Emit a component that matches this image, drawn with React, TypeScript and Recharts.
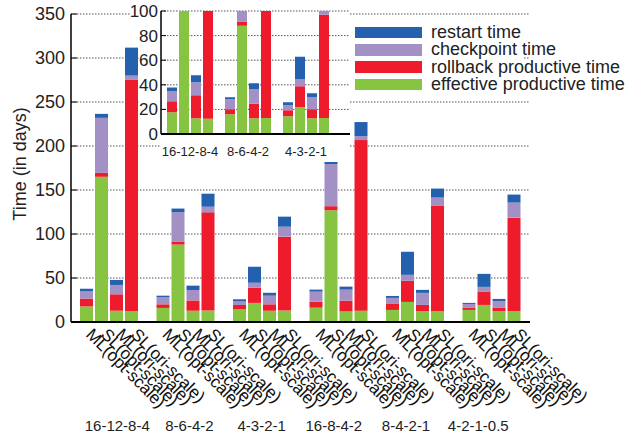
import React from 'react'
import { BarChart, Bar, XAxis, YAxis, CartesianGrid, LabelList } from 'recharts'

const FONT = '"Liberation Sans", Arial, Helvetica, sans-serif'

const groups = ['16-12-8-4', '8-6-4-2', '4-3-2-1', '16-8-4-2', '8-4-2-1', '4-2-1-0.5']
const variants = ['ML(opt-scale)', 'SL(opt-scale)', 'ML(ori-scale)', 'SL(ori-scale)']

// one row per variant, one value per group
const effective = [
  [17.7, 16, 14.4, 16.3, 13.7, 13.7],
  [165, 88, 21.7, 127, 22.8, 19.4],
  [12.8, 12.8, 12.8, 12, 12.5, 12.5],
  [12.5, 13, 13, 12.9, 12.5, 12.5],
]
const rollback = [
  [8.9, 4.1, 4.9, 6.8, 6.8, 2.3],
  [4.5, 3.5, 17.2, 4.6, 24, 14.8],
  [18.7, 11.7, 7.3, 12.3, 6.9, 3.5],
  [263, 111.6, 84, 193.8, 119.8, 106.1],
]
const checkpoint = [
  [8.2, 8.2, 4.1, 11.4, 6.9, 4.5],
  [62.5, 33.2, 5.7, 47.9, 6.8, 5.7],
  [10.6, 11.9, 9.8, 12.5, 13.7, 7.9],
  [4.5, 6.4, 11.3, 4.6, 9.1, 17.1],
]
const restart = [
  [3.0, 1.6, 2.4, 2.3, 2.2, 1.2],
  [4.5, 4.2, 18.2, 4.5, 26.2, 14.8],
  [5.7, 4.9, 3.3, 3.4, 3.4, 2.3],
  [31.8, 14.8, 11.4, 15.9, 10.2, 9.1],
]

const yTicks = [0, 50, 100, 150, 200, 250, 300, 350]
const insetTicks = [0, 20, 40, 60, 80, 100]
const insetCount = 3

const segments = [
  { key: 'eff', name: 'effective productive time', color: '#86c441', values: effective },
  { key: 'rb', name: 'rollback productive time', color: '#ee1b2d', values: rollback },
  { key: 'ck', name: 'checkpoint time', color: '#a391c6', values: checkpoint },
  { key: 'rs', name: 'restart time', color: '#2360ae', values: restart },
]

const rows = groups.map((g, i) => {
  const r: any = { group: g }
  segments.forEach(s => variants.forEach((_, v) => { r[`${s.key}${v}`] = s.values[v][i] }))
  return r
})
const insetRows = rows.slice(0, insetCount)

const GRID = { stroke: '#555', strokeDasharray: '1.5 1.5' }

function GroupTick({ x, y, payload, dy, size, drift }: any) {
  const shift = drift ? 8 - 4.3 * (payload.index ?? 0) : 0
  return (
    <text x={x + shift} y={y + dy} textAnchor="middle" fontSize={size} fill="#222" fontFamily={FONT}>{payload.value}</text>
  )
}

const variantLabel = (name: string) => (p: any) => {
  const lx = Number(p.x) + Number(p.width) / 2 - 1.5
  const ly = Number(p.y) + Number(p.height) + 13.6
  return (
    <text x={lx} y={ly} transform={`rotate(45 ${lx} ${ly})`} fontSize={17} fill="#111" fontFamily={FONT}>{name}</text>
  )
}

function AxisTitle() {
  return (
    <text x={20} y={164} transform="rotate(-90 20 164)" textAnchor="middle" dominantBaseline="central"
      fontSize={18} fill="#222" fontFamily={FONT}>Time (in days)</text>
  )
}

function bars(withLabels: boolean) {
  const out: React.ReactNode[] = []
  variants.forEach((vn, v) => {
    segments.forEach(s => {
      out.push(
        <Bar key={`${s.key}${v}`} dataKey={`${s.key}${v}`} stackId={`s${v}`} fill={s.color} isAnimationActive={false}>
          {withLabels && s.key === 'eff' ? <LabelList dataKey={`${s.key}${v}`} content={variantLabel(vn)} /> : null}
        </Bar>
      )
    })
  })
  return out
}

const white: React.CSSProperties = { position: 'absolute', background: '#fff' }

export default function App() {
  return (
    <div style={{ position: 'absolute', left: 0, top: 0, width: 631, height: 442, background: '#fff', fontFamily: FONT }}>
      <BarChart width={631} height={442} data={rows} margin={{ top: 14, right: 100, bottom: 0, left: 21 }}
        barSize={13} barGap={2}>
        <CartesianGrid vertical={false} {...GRID} />
        <XAxis dataKey="group" height={120} interval={0} tickLine={false} tickSize={0} tickMargin={0}
          axisLine={{ stroke: '#000', strokeWidth: 2 }} tick={<GroupTick dy={109} size={15} drift />} />
        <YAxis domain={[0, 350]} ticks={yTicks} interval={0} width={50} tickSize={-6} tickMargin={12}
          axisLine={{ stroke: '#000', strokeWidth: 1.5 }} tickLine={{ stroke: '#000' }}
          tick={{ fontSize: 18, fill: '#222', fontFamily: FONT }} label={<AxisTitle />} />
        <YAxis yAxisId="r" orientation="right" domain={[0, 350]} ticks={yTicks} interval={0} width={1} tickSize={-6}
          axisLine={false} tickLine={{ stroke: '#000' }} tick={false} />
        {bars(true)}
      </BarChart>

      <div style={{ ...white, left: 131, top: 0, width: 30, height: 42 }} />
      <div style={{ ...white, left: 140, top: 42, width: 21, height: 92 }} />
      <div style={{ ...white, left: 161, top: 134, width: 189, height: 28 }} />

      <div style={{ position: 'absolute', left: 100, top: 0 }}>
        <BarChart width={250} height={165} data={insetRows} margin={{ top: 11, right: 0, bottom: 0, left: 21 }}
          barSize={10} barGap={2}>
          <CartesianGrid vertical={false} fill="#fff" {...GRID} />
          <XAxis dataKey="group" height={31} interval={0} tickLine={false} tickSize={0} tickMargin={0}
            padding={{ left: 0, right: 15 }}
            axisLine={{ stroke: '#000', strokeWidth: 2 }} tick={<GroupTick dy={22} size={13} />} />
          <YAxis domain={[0, 100]} ticks={insetTicks} interval={0} allowDataOverflow width={40} tickSize={-5} tickMargin={8}
            axisLine={{ stroke: '#000', strokeWidth: 1.5 }} tickLine={{ stroke: '#000' }}
            tick={{ fontSize: 17, fill: '#222', fontFamily: FONT }} />
          {bars(false)}
        </BarChart>
      </div>

      <div style={{ ...white, left: 350, top: 18, width: 173, height: 80 }} />
      <div style={{ position: 'absolute', left: 355, top: 24 }}>
        {[...segments].reverse().map(s => (
          <div key={s.key} style={{ display: 'flex', alignItems: 'center', height: 17.3 }}>
            <div style={{ width: 67, height: 11.5, background: s.color }} />
            <span style={{ marginLeft: 9, fontSize: 18, color: '#222', lineHeight: '17px', whiteSpace: 'nowrap' }}>{s.name}</span>
          </div>
        ))}
      </div>
    </div>
  )
}
